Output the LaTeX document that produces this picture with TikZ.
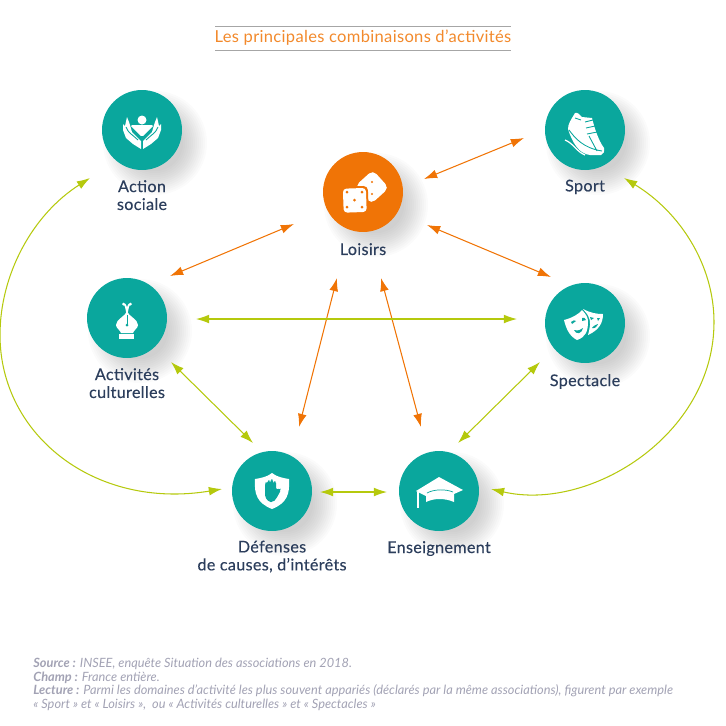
\documentclass[tikz,border=0pt]{standalone}
\usepackage{fontspec}
\usepackage{xcolor}
\setmainfont{Lato}
\usetikzlibrary{positioning,arrows.meta}
\definecolor{sarcelle}{HTML}{0AA79D}
\definecolor{orangeact}{HTML}{F07406}
\definecolor{vertlien}{HTML}{B5C90D}
\definecolor{encre}{HTML}{2C3E5C}
\definecolor{grisnote}{HTML}{A2A2B4}
\tikzset{
  pastille/.style={circle,minimum size=1.6cm,inner sep=0pt,fill=sarcelle},
  lab/.style={font=\fontsize{9.2}{10.2}\selectfont\addfontfeatures{LetterSpace=2,FakeBold=0.2},text=encre,align=center,inner sep=0pt},
  lienor/.style={draw=orangeact,line width=0.6pt,{Latex[length=7.5pt,width=5pt]}-{Latex[length=7.5pt,width=5pt]}},
  lienvt/.style={draw=vertlien,line width=0.6pt,{Latex[length=7.5pt,width=5pt]}-{Latex[length=7.5pt,width=5pt]}},
  filet/.style={draw=black!35,line width=0.5pt}
}
\begin{document}
\begin{tikzpicture}[x=0.02cm,y=-0.02cm]
  \useasboundingbox (0,0) rectangle (726,725);
  % ombres
  \foreach \cx/\cy in {142/130,585/130,363/192,127/318,585/323,272/491,439/491}
    \foreach \r in {28,30,...,52}
      \fill[black,opacity=0.014] (\cx+13,\cy+13) circle (\r);
  % titre
  \node[font=\fontsize{9.4}{12}\selectfont\addfontfeatures{LetterSpace=2},text=orangeact!85!white,inner sep=0pt] (titre) at (363,38) {Les principales combinaisons d'activités};
  \draw[filet] ([shift={(-148,-12)}]titre.center) -- ([shift={(148,-12)}]titre.center);
  \draw[filet] ([shift={(-148,12)}]titre.center) -- ([shift={(148,12)}]titre.center);
  % pastilles
  \node[pastille] (action) at (142,130) {};
  \node[pastille] (sport) at (585,130) {};
  \node[pastille,fill=orangeact] (loisirs) at (363,192) {};
  \node[pastille] (activites) at (127,318) {};
  \node[pastille] (spectacle) at (585,323) {};
  \node[pastille] (defenses) at (272,491) {};
  \node[pastille] (enseignement) at (439,491) {};
  % libelles
  \node[lab,below=0.19cm of action] (lbaction) {Action\\sociale};
  \node[lab,below=0.18cm of sport] (lbsport) {Sport};
  \node[lab,below=0.21cm of loisirs] (lbloisirs) {Loisirs};
  \node[lab,below=0.19cm of activites] (lbactivites) {Activités\\culturelles};
  \node[lab,below=0.21cm of spectacle] (lbspectacle) {Spectacle};
  \node[lab,below=0.18cm of defenses] (lbdefenses) {Défenses\\de causes, d'intérêts};
  \node[lab,below=0.19cm of enseignement] (lbenseignement) {Enseignement};
  % liens orange
  \draw[lienor] ([shift={(61,-13)}]loisirs.center) -- ([shift={(-61,8)}]sport.center);
  \draw[lienor] ([shift={(-69,32)}]loisirs.center) -- ([shift={(43,-42)}]activites.center);
  \draw[lienor] ([shift={(64,33)}]loisirs.center) -- ([shift={(-34,-46)}]spectacle.center);
  \draw[lienor] ([shift={(-26,86)}]loisirs.center) -- ([shift={(27,-64)}]defenses.center);
  \draw[lienor] ([shift={(18,86)}]loisirs.center) -- ([shift={(-18,-64)}]enseignement.center);
  % liens verts
  \draw[lienvt] ([shift={(69,1)}]activites.center) -- ([shift={(-68,-4)}]spectacle.center);
  \draw[lienvt] ([shift={(44,44)}]activites.center) -- ([shift={(-19,-48)}]defenses.center);
  \draw[lienvt] ([shift={(-45,39)}]spectacle.center) -- ([shift={(19,-48)}]enseignement.center);
  \draw[lienvt] ([shift={(48,1)}]defenses.center) -- ([shift={(-52,1)}]enseignement.center);
  \draw[lienvt] ([shift={(-52,48)}]action.center) .. controls (32,215) and (0,275) .. (0,335) .. controls (0,435) and (95,510) .. ([shift={(-50,-2)}]defenses.center);
  \draw[lienvt] ([shift={(39,48)}]sport.center) .. controls (680,212) and (714,265) .. (714,322) .. controls (714,435) and (590,512) .. ([shift={(52,-2)}]enseignement.center);
  % action sociale
  \begin{scope}[shift={(action.center)}]
    \fill[white] (0,-10) circle (4.5);
    \fill[white,rounded corners=1pt] (-12,-5) -- (12,-5) -- (0,7) -- cycle;
    \foreach \sx in {-1,1} {
      \fill[white,xscale=\sx] (-1,19) -- (-9,14) -- (-16,8) -- (-19,0) -- (-19,-6) -- (-17,-4) -- (-15,-13) -- (-13,-8) -- (-12,-5) -- (-10,2) -- (-5,7) -- (-1,11) -- cycle;
      \draw[sarcelle,line width=0.5pt,xscale=\sx] (-16,-3) .. controls (-14,3) and (-9,5) .. (-4,10);
    }
  \end{scope}
  % des
  \begin{scope}[shift={(loisirs.center)}]
    \fill[white,rotate around={42:(9,-5)},rounded corners=3pt] (-3,-17) rectangle (21,7);
    \fill[orangeact] (9,-10) circle (1.1) (9,2) circle (1.1);
    \fill[orangeact,rotate=2,rounded corners=2.5pt] (-22,-6) rectangle (5,22);
    \fill[white,rotate=2,rounded corners=2pt] (-20,-4) rectangle (3,20);
    \foreach \dx/\dy in {-16/0,-1/0,-8.5/8,-16/15,-1/15}
      \fill[orangeact] (\dx,\dy) circle (1.5);
  \end{scope}
  % chaussure
  \begin{scope}[shift={(sport.center)}]
    \fill[white] (-10,-17) .. controls (-7,-18) and (-5,-15) .. (-3,-13) -- (7,-12) .. controls (9,-4) and (13,10) .. (19,18) .. controls (20,22) and (18,24) .. (16,25) -- (5,25) .. controls (-6,24) and (-13,12) .. (-17,-1) .. controls (-17,-6) and (-14,-10) .. (-13,-12) -- cycle;
    \draw[white,line width=0.7pt] (-20,10) .. controls (-12,13) and (-8,22) .. (0,25);
    \draw[sarcelle,line width=0.5pt] (0,-8) -- (8,-10) (1,-2) -- (10,-4) (2,4) -- (12,2) (-10,-12) -- (-4,-10) (-16,0) .. controls (-10,8) and (-2,18) .. (17,21) (4,6) -- (12,21);
  \end{scope}
  % masques
  \begin{scope}[shift={(spectacle.center)}]
    \fill[white] (-21,-3) .. controls (-13,-5) and (-6,-9) .. (-3,-13) .. controls (1,-9) and (3,-5) .. (3,-2) .. controls (3,8) and (1,14) .. (-8,17) .. controls (-16,13) and (-19,5) .. (-21,-3) -- cycle;
    \fill[white] (-2,-14) .. controls (6,-10) and (11,-9) .. (18,-9) .. controls (18,0) and (14,7) .. (3,12) .. controls (5,5) and (6,-2) .. (4,-5) .. controls (3,-9) and (0,-11) .. (-2,-14) -- cycle;
    \fill[sarcelle] (-14,-1) .. controls (-12,-3) and (-10,-3) .. (-9,-2) -- (-13,1) -- cycle (-3,-5) .. controls (-1,-6) and (0,-5) .. (1,-3) -- (-3,-2) -- cycle (-11,7) .. controls (-7,8) and (-4,7) .. (-2,5) .. controls (-3,11) and (-9,12) .. (-11,7) -- cycle;
    \fill[sarcelle] (5,-6) -- (9,-5) -- (6,-3) -- cycle (12,-5) -- (15,-5) -- (13,-2) -- cycle (7,5) .. controls (9,2) and (11,2) .. (13,1) .. controls (12,4) and (9,6) .. (7,5) -- cycle;
  \end{scope}
  % plume
  \begin{scope}[shift={(activites.center)}]
    \fill[white] (0,-7) .. controls (1,-2) and (11,1) .. (11,7) .. controls (11,10) and (7,12) .. (6,15) -- (-6,15) .. controls (-7,12) and (-11,10) .. (-11,7) .. controls (-11,1) and (-1,-2) .. (0,-7) -- cycle;
    \fill[white] (-8,16) rectangle (7,21);
    \draw[white,line width=1pt] (-3.5,-14) .. controls (-1,-14) and (-1,-10) .. (0,-6) .. controls (1,-10) and (1,-14) .. (3.5,-14);
    \fill[white] (-3.5,-14) circle (1.5) (3.5,-14) circle (1.5);
    \draw[sarcelle,line width=0.5pt] (0,-3) -- (0,7);
    \fill[sarcelle] (0,7) circle (1.5);
  \end{scope}
  % bouclier
  \begin{scope}[shift={(defenses.center)}]
    \fill[white] (0,-18) .. controls (5,-14) and (11,-13) .. (17,-12) .. controls (18,3) and (15,12) .. (0,18) .. controls (-15,12) and (-18,3) .. (-17,-12) .. controls (-11,-13) and (-5,-14) .. (0,-18) -- cycle;
    \fill[sarcelle,rounded corners=1pt] (-7,-7) -- (-6,-10) -- (-5,-7) -- (-4,-11) -- (-2,-11) -- (-2,-7) -- (-1,-12) -- (1,-12) -- (1,-7) -- (2,-10) -- (4,-10) -- (4,-1) -- (8,-3) -- (9,-1) -- (4,8) -- (1,11) -- (-3,11) -- (-7,6) -- cycle;
  \end{scope}
  % toque
  \begin{scope}[shift={(enseignement.center)}]
    \fill[white] (-23,0) -- (0,-14) -- (24,-1) -- (15,3) -- (15,11) .. controls (6,7) and (-5,7) .. (-13,11) -- (-13,5) -- cycle;
    \draw[sarcelle,line width=0.4pt] (-12,2) .. controls (-5,-2) and (7,-2) .. (14,1);
    \draw[white,line width=1.2pt] (-21,1) -- (-21,17);
  \end{scope}
  % note
  \node[anchor=north west,font=\fontsize{7.27}{7.7}\selectfont\itshape,text=grisnote,align=left,inner sep=0pt] (note) at (33,658) {\textbf{Source :} INSEE, enquête Situation des associations en 2018.\\\textbf{Champ :} France entière.\\\textbf{Lecture :} Parmi les domaines d'activité les plus souvent appariés (déclarés par la même associations), figurent par exemple\\« Sport » et « Loisirs »,~ ou « Activités culturelles » et « Spectacles »};
\end{tikzpicture}
\end{document}
